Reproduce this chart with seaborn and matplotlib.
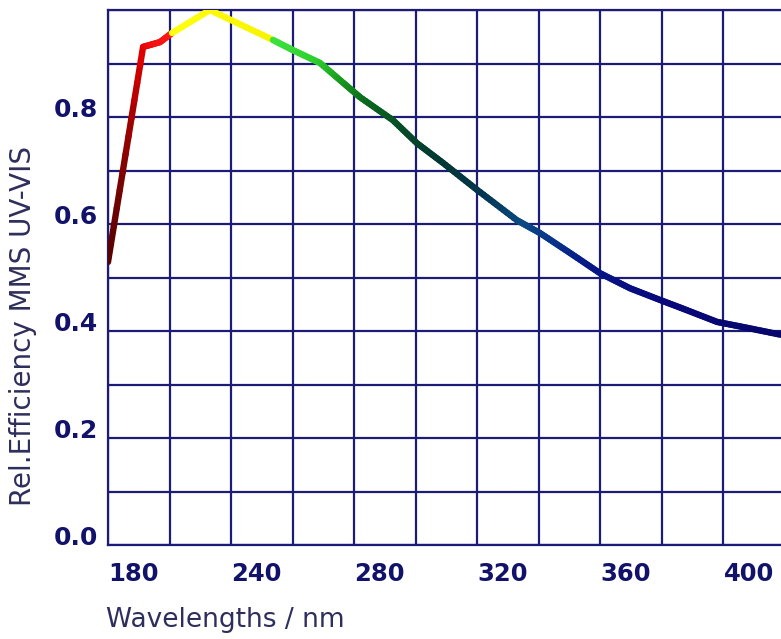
import numpy as np
import pandas as pd
import matplotlib
matplotlib.use("Agg")
import matplotlib.pyplot as plt
from matplotlib.colors import LinearSegmentedColormap
import seaborn as sns

# Relative efficiency curve of the MMS UV-VIS spectrometer
wavelength = [200.0, 211.4, 216.9, 220.8, 233.1, 253.6, 260.1, 268.9, 276.4,
              281.9, 292.6, 300.4, 308.9, 319.9, 332.9, 340.4, 350.1, 359.9,
              369.6, 379.4, 388.1, 397.9, 407.6, 418.7]
efficiency = [0.529, 0.931, 0.940, 0.957, 1.000, 0.944, 0.925, 0.901, 0.864,
              0.837, 0.794, 0.751, 0.714, 0.664, 0.607, 0.583, 0.546, 0.508,
              0.480, 0.458, 0.439, 0.417, 0.406, 0.393]

# Axis ticks (grid every 20 nm / 0.1, labels on alternate lines)
x_grid = [200, 220, 240, 260, 280, 300, 320, 340, 360, 380, 400]
x_labels = ["180", "", "240", "", "280", "", "320", "", "360", "", "400"]
y_grid = [0.0, 0.1, 0.2, 0.3, 0.4, 0.5, 0.6, 0.7, 0.8, 0.9, 1.0]
y_labels = ["0.0", "", "0.2", "", "0.4", "", "0.6", "", "0.8", "", ""]

X_MIN, X_MAX = 200.0, 418.7

# Spectral colour ramp along the wavelength axis
stops = [
    (200.0, "#560000"), (204.0, "#740404"), (208.0, "#a80000"),
    (211.0, "#e00000"), (215.0, "#f41010"), (220.7, "#ff1a1a"),
    (220.9, "#ffff10"), (253.4, "#f8f400"), (253.7, "#3ee23e"),
    (268.0, "#2ed02e"), (276.0, "#1a9a1e"), (284.0, "#0a6a1e"),
    (297.0, "#054a28"), (308.0, "#023832"), (322.0, "#02344e"),
    (335.0, "#0a4a82"), (345.0, "#08338a"), (358.0, "#061686"),
    (380.0, "#08087c"), (418.7, "#06066a"),
]
cmap = LinearSegmentedColormap.from_list(
    "spectral_ramp",
    [((w - X_MIN) / (X_MAX - X_MIN), c) for w, c in stops], N=1024)

# Split the polyline into short straight pieces so each piece gets its own hue
rows = []
piece = 0
for i in range(len(wavelength) - 1):
    x0, x1 = wavelength[i], wavelength[i + 1]
    y0, y1 = efficiency[i], efficiency[i + 1]
    n = 12
    for k in range(n):
        t0, t1 = k / n, (k + 1) / n
        xa, xb = x0 + (x1 - x0) * t0, x0 + (x1 - x0) * t1
        ya, yb = y0 + (y1 - y0) * t0, y0 + (y1 - y0) * t1
        mid = 0.5 * (xa + xb)
        rows.append((piece, mid, xa, ya))
        rows.append((piece, mid, xb, yb))
        piece += 1
df = pd.DataFrame(rows, columns=["piece", "hue_wl", "wavelength", "efficiency"])

sns.set_style("white")
plt.rcParams["font.family"] = ["DejaVu Sans"]

fig = plt.figure(figsize=(7.81, 6.39), dpi=100)
ax = fig.add_axes([108 / 781, 1 - 545 / 639, 1 - 108 / 781, (545 - 10) / 639])

grid_color = "#1c1c76"
sns.lineplot(data=df, x="wavelength", y="efficiency", hue="hue_wl",
             units="piece", estimator=None, sort=False, palette=cmap,
             hue_norm=(X_MIN, X_MAX), legend=False, linewidth=4.6,
             solid_capstyle="round", ax=ax, zorder=3)

ax.set_xlim(X_MIN, X_MAX)
ax.set_ylim(0, 1.0)
ax.set_xticks(x_grid)
ax.set_xticklabels(x_labels)
ax.set_yticks(y_grid)
ax.set_yticklabels(y_labels)
ax.grid(True, color=grid_color, linewidth=1.6)
ax.set_axisbelow(True)

for side in ["left", "bottom", "top"]:
    ax.spines[side].set_visible(True)
    ax.spines[side].set_color(grid_color)
    ax.spines[side].set_linewidth(1.6)
ax.spines["right"].set_visible(False)

ax.tick_params(axis="both", length=0)
ax.tick_params(axis="x", pad=12)
ax.tick_params(axis="y", pad=7)
tick_color = "#12126a"
for lab in ax.get_xticklabels():
    lab.set_horizontalalignment("left")
    lab.set_fontsize(17.5)
    lab.set_fontweight("bold")
    lab.set_color(tick_color)
for lab in ax.get_yticklabels():
    lab.set_verticalalignment("baseline")
    lab.set_fontsize(18)
    lab.set_fontweight("bold")
    lab.set_color(tick_color)

label_color = "#2e2e5c"
ax.set_xlabel("")
ax.set_ylabel("")
fig.text(106 / 781, 1 - 627 / 639, "Wavelengths / nm", fontsize=19,
         color=label_color, ha="left", va="baseline")
fig.text(23 / 781, 1 - 326 / 639, "Rel.Efficiency MMS UV-VIS", fontsize=20,
         color=label_color, ha="center", va="center", rotation=90)

fig.savefig("out.png", dpi=100, facecolor="white")
